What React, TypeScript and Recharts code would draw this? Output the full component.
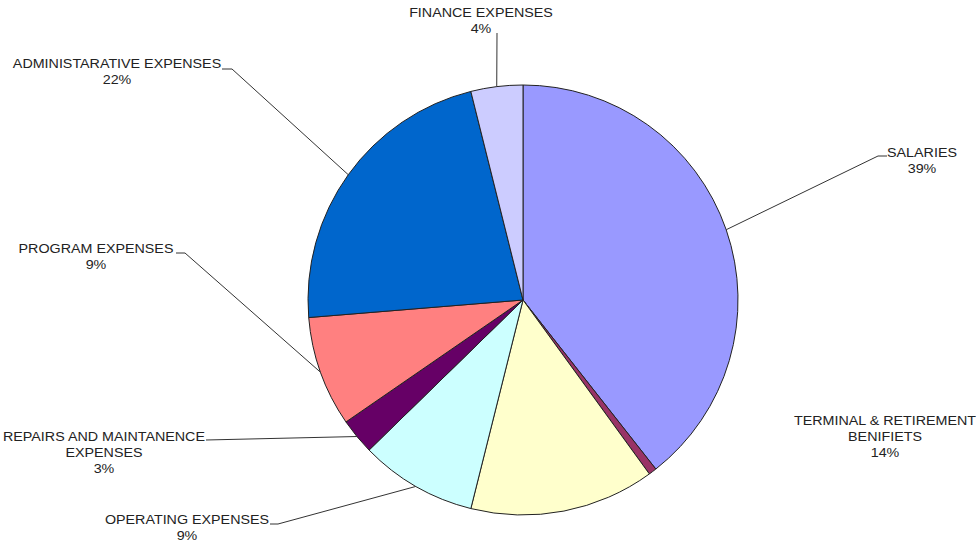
import { Pie, PieChart, Cell } from 'recharts'

// Slice order follows the reference: clockwise from 12 o'clock.
const categories = [
  'SALARIES',
  'OTHER',
  'TERMINAL & RETIREMENT BENIFIETS',
  'OPERATING EXPENSES',
  'REPAIRS AND MAINTANENCE EXPENSES',
  'PROGRAM EXPENSES',
  'ADMINISTARATIVE EXPENSES',
  'FINANCE EXPENSES',
]
const shares = [39.4, 0.6, 13.9, 8.8, 2.7, 8.3, 22.4, 3.9]
const percentLabels = ['39%', '', '14%', '9%', '3%', '9%', '22%', '4%']
const labelLines = [
  ['SALARIES'],
  [],
  ['TERMINAL & RETIREMENT', 'BENIFIETS'],
  ['OPERATING EXPENSES'],
  ['REPAIRS AND MAINTANENCE', 'EXPENSES'],
  ['PROGRAM EXPENSES'],
  ['ADMINISTARATIVE EXPENSES'],
  ['FINANCE EXPENSES'],
]

// classic spreadsheet pie palette
const colors = ['#9999FF', '#993366', '#FFFFCC', '#CCFFFF', '#660066', '#FF8080', '#0066CC', '#CCCCFF']

// hand placed label boxes (like the original): text block centre + first baseline,
// leader line goes from slice edge through the listed points
type LabelPos = { tx: number; ty: number; path: [number, number][] | null } | null
const labelLayout: LabelPos[] = [
  { tx: 922, ty: 157, path: [[878, 156], [887, 156]] },
  null,
  { tx: 885, ty: 425, path: null },
  { tx: 187, ty: 524, path: [[278, 524], [270, 524]] },
  { tx: 104, ty: 441, path: [[206, 440]] },
  { tx: 96, ty: 253, path: [[185, 253], [176, 253]] },
  { tx: 117, ty: 68, path: [[232, 69], [222, 69]] },
  { tx: 481, ty: 17, path: [[497, 33]] },
]

const data = categories.map((name, i) => ({ name, value: shares[i] }))

const RAD = Math.PI / 180

function renderLabel(props: any) {
  const { cx, cy, midAngle, outerRadius, index } = props
  const pos = labelLayout[index]
  if (!pos) return null
  const ex = cx + outerRadius * Math.cos(-midAngle * RAD)
  const ey = cy + outerRadius * Math.sin(-midAngle * RAD)
  const lines = [...labelLines[index], percentLabels[index]]
  return (
    <g>
      {pos.path && (
        <polyline
          points={[[ex, ey], ...pos.path].map((p) => p.join(',')).join(' ')}
          fill="none"
          stroke="#333"
          strokeWidth={1}
        />
      )}
      {lines.map((t, j) => (
        <text
          key={j}
          x={0}
          y={0}
          transform={`translate(${pos.tx},${pos.ty + j * 16}) scale(1.1,1)`}
          textAnchor="middle"
          fontSize={13}
          fontFamily="'Liberation Sans', Arial, sans-serif"
          fill="#222"
        >
          {t}
        </text>
      ))}
    </g>
  )
}

export default function App() {
  return (
    <div style={{ position: 'absolute', left: 0, top: 0, width: 976, height: 545, background: '#fff' }}>
      <PieChart width={976} height={545} margin={{ top: 0, right: 0, bottom: 0, left: 0 }}>
        <Pie
          data={data}
          dataKey="value"
          nameKey="name"
          cx={523}
          cy={300}
          outerRadius={215}
          startAngle={90}
          endAngle={-270}
          stroke="#222"
          strokeWidth={1}
          label={renderLabel}
          labelLine={false}
          isAnimationActive={false}
        >
          {data.map((d, i) => (
            <Cell key={d.name} fill={colors[i]} />
          ))}
        </Pie>
      </PieChart>
    </div>
  )
}
